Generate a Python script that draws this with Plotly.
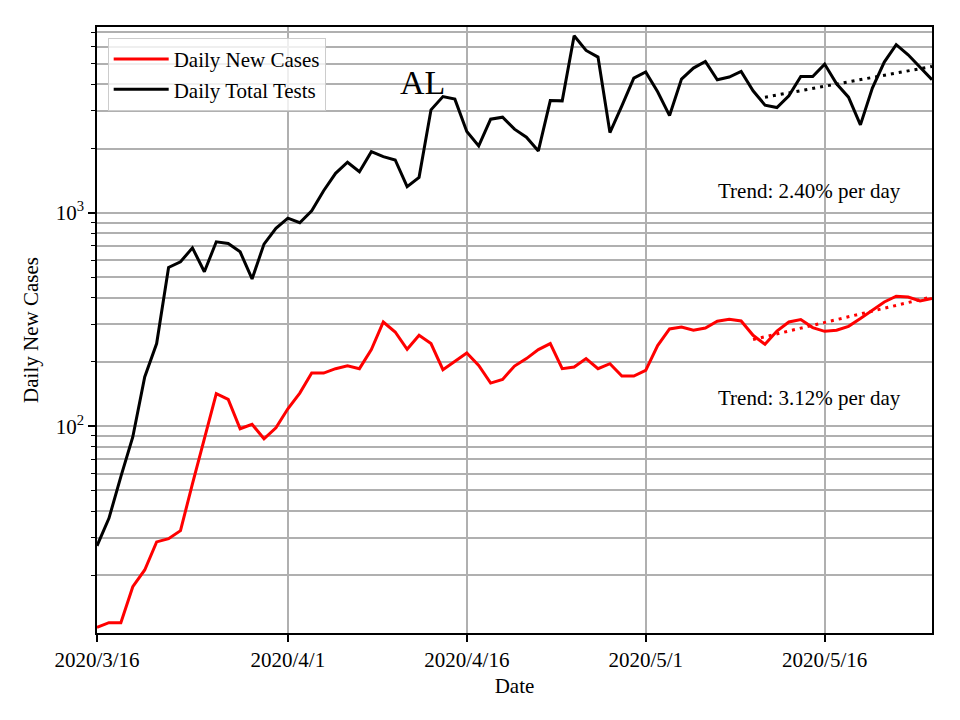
import numpy as np
import pandas as pd
import plotly.graph_objects as go

start_date = "2020-03-16"
new_cases = [11.4, 12.0, 12.0, 17.7, 21.2, 28.7, 29.7, 32.4, 53.7, 86.3,
             142, 133.5, 97.3, 102, 87.3, 98.3, 120.7, 142.9, 177.4, 177.4,
             186, 192, 186, 228.4, 307.7, 276.3, 229.2, 266.6, 243.8, 184,
             201.3, 220.2, 192.8, 159.2, 165.7, 191.3, 207.3, 228.4, 243.8, 186,
             189.2, 207.3, 186, 196.3, 171.7, 171.7, 182.6, 238.5, 285.4, 291.5,
             281.4, 288.5, 310.1, 316.9, 311.2, 266.6, 241.9, 279.3, 307.7, 315.9,
             289.7, 278.3, 281.4, 293.8, 319.3, 349.3, 382.1, 406.3, 403.2, 386.2,
             396.5]
total_tests = [27.5, 37, 58, 89, 170, 244, 554, 589, 685, 529,
               731, 718, 656, 490, 713, 845, 944, 898, 1022, 1268,
               1531, 1725, 1557, 1932, 1832, 1767, 1325, 1466, 3035, 3504,
               3407, 2401, 2057, 2745, 2805, 2464, 2259, 1949, 3356, 3345,
               6754, 5762, 5364, 2375, 3169, 4276, 4566, 3687, 2853, 4229,
               4764, 5115, 4198, 4323, 4592, 3727, 3194, 3111, 3531, 4350,
               4350, 4973, 4020, 3481, 2581, 3837, 5083, 6131, 5501, 4816,
               4198]
# trend: daily growth rate and first date of the fitted window
cases_trend_rate = 0.0312
cases_trend_start = "2020-05-10"
tests_trend_rate = 0.0240
tests_trend_start = "2020-05-11"

x_tick_vals = ["2020-03-16", "2020-04-01", "2020-04-16", "2020-05-01", "2020-05-16"]
x_tick_text = ["2020/3/16", "2020/4/1", "2020/4/16", "2020/5/1", "2020/5/16"]
y_tick_vals = [100, 1000]
y_tick_text = ["10<sup>2</sup>", "10<sup>3</sup>"]
y_minor_vals = [20, 30, 40, 50, 60, 70, 80, 90, 200, 300, 400, 500, 600, 700, 800, 900,
                2000, 3000, 4000, 5000, 6000, 7000]

dates = pd.date_range(start_date, periods=len(new_cases), freq="D")


def trend(values, rate, tstart):
    s = pd.Series(values, index=dates)
    s = s[s.index >= pd.Timestamp(tstart)]
    t = np.arange(len(s))
    slope = np.log(1 + rate)
    intercept = np.mean(np.log(s.values)) - slope * np.mean(t)
    return s.index, np.exp(intercept + slope * t)


FONT = "Liberation Serif"
FS = 21
fig = go.Figure()
fig.add_trace(go.Scatter(x=dates, y=new_cases, mode="lines", name="Daily New Cases",
                         legendgroup="a",
                         line=dict(color="red", width=3)))
fig.add_trace(go.Scatter(x=dates, y=total_tests, mode="lines", name="Daily Total Tests",
                         legendgroup="b",
                         line=dict(color="black", width=3)))
tx, ty = trend(new_cases, cases_trend_rate, cases_trend_start)
fig.add_trace(go.Scatter(x=tx, y=ty, mode="lines", showlegend=False,
                         line=dict(color="red", width=3, dash="3px,5px")))
tx, ty = trend(total_tests, tests_trend_rate, tests_trend_start)
fig.add_trace(go.Scatter(x=tx, y=ty, mode="lines", showlegend=False,
                         line=dict(color="black", width=3, dash="3px,5px")))

grid = "#b0b0b0"
fig.update_layout(
    width=952, height=712,
    margin=dict(l=89, r=28, t=19, b=87),
    paper_bgcolor="white", plot_bgcolor="white",
    font=dict(family=FONT, size=FS, color="black"),
    showlegend=True,
    legend=dict(x=0.0128, y=0.982, xanchor="left", yanchor="top",
                bgcolor="rgba(255,255,255,0.8)", bordercolor="#cccccc", borderwidth=1,
                itemwidth=55, tracegroupgap=0,
                font=dict(family=FONT, size=FS, color="black")),
    xaxis=dict(type="date", range=["2020-03-16", "2020-05-25"],
               tickmode="array", tickvals=x_tick_vals, ticktext=x_tick_text,
               ticks="outside", ticklen=7, tickwidth=1.6, tickcolor="black",
               showgrid=True, gridcolor=grid, gridwidth=1.6,
               showline=True, linecolor="black", linewidth=1.6, mirror=True,
               zeroline=False,
               title=dict(text="Date", font=dict(family=FONT, size=FS), standoff=7)),
    yaxis=dict(type="log", range=[np.log10(10.74), np.log10(7420)],
               tickmode="array", tickvals=y_tick_vals, ticktext=y_tick_text,
               ticks="outside", ticklen=7, tickwidth=1.6, tickcolor="black",
               showgrid=True, gridcolor=grid, gridwidth=1.6,
               minor=dict(tickmode="array", tickvals=y_minor_vals, ticks="outside",
                          ticklen=4, tickwidth=1.2, tickcolor="black",
                          showgrid=True, gridcolor=grid, gridwidth=1.6),
               showline=True, linecolor="black", linewidth=1.6, mirror=True,
               zeroline=False,
               title=dict(text="Daily New Cases", font=dict(family=FONT, size=FS), standoff=11)),
)

fig.add_annotation(text="AL", xref="paper", yref="paper", x=0.3605, y=0.9088,
                   xanchor="left", yanchor="middle", showarrow=False,
                   font=dict(family=FONT, size=34, color="black"))
fig.add_annotation(text="Trend: 2.40% per day", xref="paper", yref="paper", x=0.9653, y=0.7298,
                   xanchor="right", yanchor="middle", showarrow=False,
                   font=dict(family=FONT, size=FS, color="black"))
fig.add_annotation(text="Trend: 3.12% per day", xref="paper", yref="paper", x=0.9653, y=0.3885,
                   xanchor="right", yanchor="middle", showarrow=False,
                   font=dict(family=FONT, size=FS, color="black"))

fig.write_html("out.html")
